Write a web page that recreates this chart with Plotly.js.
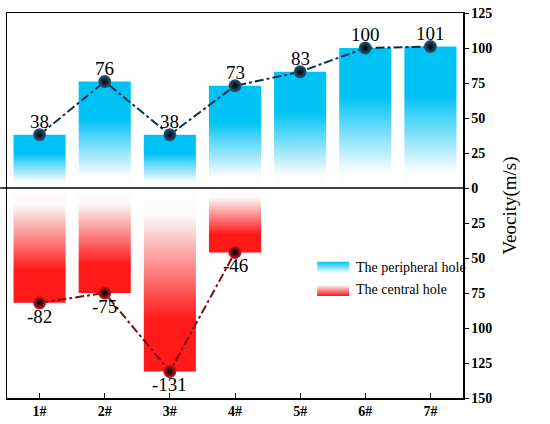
<!DOCTYPE html>
<html>
<head>
<meta charset="utf-8">
<script src="https://cdn.plot.ly/plotly-3.0.1.min.js"></script>
<style>
html,body{margin:0;padding:0;background:#fff;}
#chart{width:550px;height:424px;}
</style>
</head>
<body>
<div id="chart"></div>
<script>
const categories = ['1#','2#','3#','4#','5#','6#','7#'];
const peripheral = [38, 76, 38, 73, 83, 100, 101];
const centralIdx = [0, 1, 2, 3];
const central = [-82, -75, -131, -46];
const yTickVals = [-150,-125,-100,-75,-50,-25,0,25,50,75,100,125];
const yTickText = ['150','125','100','75','50','25','0','25','50','75','100','125'];
const legendNames = ['The peripheral hole', 'The central hole'];

const FONT = 'Liberation Serif';
const BLACK = '#000000';
const cyan = 'rgb(0,195,245)';
const red = 'rgb(255,25,25)';
const halfW = 0.4;
const traces = [];

function rectTrace(x0, x1, y0, y1, scale, xa, ya) {
  return {
    type: 'scatter', mode: 'none',
    x: [x0, x1, x1, x0, x0], y: [y0, y0, y1, y1, y0],
    xaxis: xa || 'x', yaxis: ya || 'y',
    fill: 'toself',
    fillgradient: {type: 'vertical', colorscale: scale},
    fillcolor: scale[scale.length - 1][1],
    showlegend: false, hoverinfo: 'skip'
  };
}
const posScale = [[0,'rgb(255,255,255)'],[0.12,'rgb(250,252,254)'],[0.65,cyan],[1,cyan]];
const negScale = [[0,red],[0.28,red],[0.85,'rgb(252,248,248)'],[1,'rgb(255,255,255)']];

peripheral.forEach((v, i) => traces.push(rectTrace(i - halfW, i + halfW, 0, v, posScale)));
central.forEach((v, k) => traces.push(rectTrace(centralIdx[k] - halfW, centralIdx[k] + halfW, v, 0, negScale)));

const legPos = [[0,'rgb(255,255,255)'],[1,cyan]];
const legNeg = [[0,red],[1,'rgb(255,255,255)']];
traces.push(rectTrace(0, 1, 0.62, 0.9, legPos, 'x2', 'y2'));
traces.push(rectTrace(0, 1, 0.05, 0.33, legNeg, 'x2', 'y2'));

traces.push({
  type: 'scatter', mode: 'lines+markers',
  x: peripheral.map((v, i) => i), y: peripheral,
  line: {color: '#0d2e4a', width: 2, dash: 'dashdot'},
  marker: {size: 13, color: '#245f80', gradient: {type: 'radial', color: '#000'}},
  showlegend: false, hoverinfo: 'skip', cliponaxis: false
});
traces.push({
  type: 'scatter', mode: 'lines+markers',
  x: centralIdx, y: central,
  line: {color: '#7a1010', width: 2, dash: 'dashdot'},
  marker: {size: 13, color: '#c81e1e', gradient: {type: 'radial', color: '#000'}},
  showlegend: false, hoverinfo: 'skip', cliponaxis: false
});

const annotations = [];
peripheral.forEach((v, i) => annotations.push({
  x: i, y: v, xref: 'x', yref: 'y', text: String(v), showarrow: false,
  yanchor: 'bottom', yshift: 1, font: {family: FONT, size: 19, color: BLACK}
}));
central.forEach((v, k) => annotations.push({
  x: centralIdx[k], y: v, xref: 'x', yref: 'y', text: String(v), showarrow: false,
  yanchor: 'top', yshift: -1, font: {family: FONT, size: 19, color: BLACK}
}));
annotations.push({xref: 'paper', yref: 'paper', x: 0.762, y: 0.338, text: legendNames[0], showarrow: false,
  xanchor: 'left', yanchor: 'middle', font: {family: FONT, size: 14, color: BLACK}});
annotations.push({xref: 'paper', yref: 'paper', x: 0.762, y: 0.283, text: legendNames[1], showarrow: false,
  xanchor: 'left', yanchor: 'middle', font: {family: FONT, size: 14, color: BLACK}});
annotations.push({xref: 'paper', yref: 'paper', x: 1.101, y: 0.5, text: 'Veocity(m/s)', showarrow: false,
  textangle: -90, xanchor: 'center', yanchor: 'middle', font: {family: FONT, size: 19, color: BLACK}});

const layout = {
  width: 550, height: 424,
  margin: {l: 7, r: 87, t: 13, b: 26},
  paper_bgcolor: '#fff', plot_bgcolor: '#fff',
  showlegend: false,
  xaxis: {
    range: [-0.5, 6.5], tickvals: [0,1,2,3,4,5,6], ticktext: categories.map(c => '<b>' + c + '</b>'),
    showgrid: false, zeroline: false, showline: true, mirror: true,
    linecolor: '#000', linewidth: 1.5, ticks: 'inside', ticklen: 5, tickcolor: '#000',
    tickfont: {family: FONT, size: 14, color: BLACK}
  },
  yaxis: {
    range: [-150, 125], side: 'right', tickvals: yTickVals, ticktext: yTickText.map(t => '<b>' + t + '</b>'),
    showgrid: false, zeroline: false,
    showline: true, mirror: true, linecolor: '#000', linewidth: 1.5,
    ticks: 'outside', ticklen: 4, tickcolor: '#000',
    tickfont: {family: FONT, size: 14, color: BLACK}
  },
  xaxis2: {domain: [0.68, 0.751], range: [0, 1], visible: false, fixedrange: true, anchor: 'y2'},
  yaxis2: {domain: [0.26, 0.364], range: [0, 1], visible: false, fixedrange: true, anchor: 'x2'},
  shapes: [{type: 'line', xref: 'paper', x0: -0.015, x1: 1, yref: 'y', y0: 0, y1: 0,
            line: {color: '#000', width: 1.5}, layer: 'above'}],
  annotations: annotations
};
Plotly.newPlot('chart', traces, layout, {displayModeBar: false, staticPlot: true});
</script>
</body>
</html>
